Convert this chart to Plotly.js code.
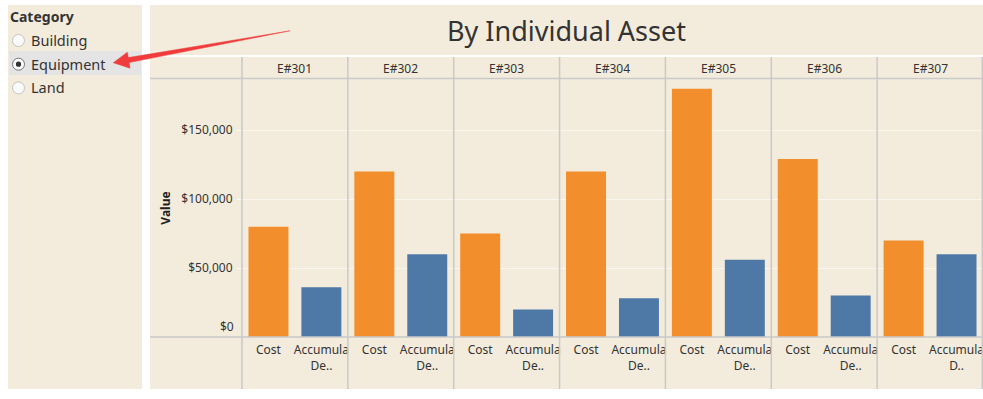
<!DOCTYPE html>
<html>
<head>
<meta charset="utf-8">
<script src="https://cdn.plot.ly/plotly-3.0.1.min.js"></script>
<style>html,body{margin:0;padding:0;background:#fff;}#chart{width:983px;height:399px;}</style>
</head>
<body>
<div id="chart"></div>
<script>
// ---- data ----
const assets = ["E#301", "E#302", "E#303", "E#304", "E#305", "E#306", "E#307"];
const measures = ["Cost", "Accumulated Depreciation"];
const costValues = [80000, 120000, 75000, 120000, 180000, 129000, 70000];
const accDepValues = [36000, 60000, 20000, 28000, 56000, 30000, 60000];
const measureTickLabels = [
  ["Cost", "Accumula<br>De.."],
  ["Cost", "Accumula<br>De.."],
  ["Cost", "Accumula<br>De.."],
  ["Cost", "Accumula<br>De.."],
  ["Cost", "Accumula<br>De.."],
  ["Cost", "Accumula<br>De.."],
  ["Cost", "Accumula<br>D.."]
];
const yTickValues = [0, 50000, 100000, 150000];
const filterTitle = "Category";
const filterOptions = ["Building", "Equipment", "Land"];
const selectedOption = "Equipment";
const chartTitle = "By Individual Asset";
const yAxisTitle = "Value";

// ---- styling helpers ----
const W = 983, H = 399;
const X = px => px / W;
const Y = py => 1 - py / H;
const FONT = "Noto Sans, Open Sans, sans-serif";
const TXT = "#333333";
const BEIGE = "#f3ecdc";
const LINE = "#c9c9c9";
const ORANGE = "#f28e2b";
const BLUE = "#4e79a7";

const colLeft = 242, colRight = 983;
const cw = (colRight - colLeft) / assets.length;
const plotTop = 79, plotBottom = 337;

const traces = [];
const layout = {
  width: W, height: H,
  margin: {l: 0, r: 0, t: 0, b: 0, pad: 0},
  paper_bgcolor: "#ffffff",
  plot_bgcolor: "rgba(0,0,0,0)",
  showlegend: false,
  bargap: 0.245,
  font: {family: FONT, color: TXT, size: 12},
  title: {
    text: chartTitle,
    font: {family: FONT, size: 27, color: TXT},
    x: X(566.5), xref: "paper", xanchor: "center",
    y: Y(32), yref: "paper", yanchor: "middle"
  },
  annotations: [],
  shapes: []
};

// y axis (shared)
layout.yaxis = {
  domain: [Y(plotBottom), Y(plotTop)],
  anchor: "x",
  range: [0, 187000],
  tickvals: yTickValues.filter(v => v !== 0),
  tickformat: "$,.0f",
  tickfont: {family: FONT, size: 12, color: TXT},
  ticks: "outside", ticklen: 4, tickcolor: "rgba(255,255,255,0.8)",
  ticklabelstandoff: 2,
  showgrid: true, gridcolor: "rgba(255,255,255,0.6)", gridwidth: 1,
  zeroline: false, showline: false,
  title: {text: yAxisTitle, font: {family: FONT, size: 12, color: "#222", weight: "bold"}, standoff: 8}
};

assets.forEach((a, i) => {
  const xa = i === 0 ? "x" : "x" + (i + 1);
  const key = i === 0 ? "xaxis" : "xaxis" + (i + 1);
  traces.push({
    type: "bar",
    x: measures,
    y: [costValues[i], accDepValues[i]],
    xaxis: xa, yaxis: "y",
    marker: {color: [ORANGE, BLUE], line: {width: 0}},
    hoverinfo: "x+y",
    name: a
  });
  layout[key] = {
    domain: [X(colLeft + i * cw), X(colLeft + (i + 1) * cw)],
    anchor: "y",
    type: "category",
    categoryorder: "array", categoryarray: measures,
    tickvals: measures,
    ticktext: measureTickLabels[i],
    tickfont: {family: FONT, size: 12, color: TXT},
    ticks: "", ticklabelstandoff: 4,
    showgrid: false, zeroline: false, showline: false, fixedrange: true
  };
  // column header
  layout.annotations.push({
    text: a, xref: xa + " domain", x: 0.5,
    yref: "paper", y: Y(68.5), xanchor: "center", yanchor: "middle",
    showarrow: false, font: {family: FONT, size: 12, color: TXT}
  });
});

// $0 label (Tableau nudges the bottom label inside the pane)
layout.annotations.push({
  text: "$0", xref: "paper", x: X(236), xanchor: "right",
  yref: "y", y: yTickValues[0], yanchor: "middle", yshift: 11,
  showarrow: false, font: {family: FONT, size: 12, color: TXT}
});

// ---- background panels ----
const rect = (x0, y0, x1, y1, color, layer) => ({
  type: "rect", xref: "paper", yref: "paper",
  x0: X(x0), x1: X(x1), y0: Y(y1), y1: Y(y0),
  fillcolor: color, line: {width: 0}, layer: layer || "below"
});
layout.shapes.push(rect(8, 5, 142, 389, BEIGE));
layout.shapes.push(rect(150, 5, 983, 55, BEIGE));
layout.shapes.push(rect(150, 57, 983, 389, BEIGE));
layout.shapes.push(rect(9, 51, 141, 75, "#e4e4e4"));

// ---- pane lines ----
const line = (x0, y0, x1, y1) => ({
  type: "line", xref: "paper", yref: "paper",
  x0: X(x0), x1: X(x1), y0: Y(y0), y1: Y(y1),
  line: {color: LINE, width: 1.5}, layer: "above"
});
layout.shapes.push(line(150, 78.5, 983, 78.5));
layout.shapes.push(line(150, 337, 983, 337));
for (let i = 0; i <= assets.length; i++) {
  const xp = Math.min(colLeft + i * cw, 982.3);
  layout.shapes.push(line(xp, 57, xp, 389));
}

// ---- filter panel ----
layout.annotations.push({
  text: "<b>" + filterTitle + "</b>", xref: "paper", yref: "paper",
  x: X(8), y: Y(16), xanchor: "left", yanchor: "middle",
  showarrow: false, font: {family: FONT, size: 14, color: TXT}
});
filterOptions.forEach((opt, k) => {
  const cy = 40.5 + k * 23.7;
  const sel = opt === selectedOption;
  layout.shapes.push({
    type: "circle", xref: "paper", yref: "paper",
    xsizemode: "pixel", ysizemode: "pixel",
    xanchor: X(18.5), yanchor: Y(cy),
    x0: -6, x1: 6, y0: -6, y1: 6,
    fillcolor: "#fbfbfb", line: {color: sel ? "#777777" : "#c4c4c4", width: 1},
    layer: "above"
  });
  if (sel) {
    layout.shapes.push({
      type: "circle", xref: "paper", yref: "paper",
      xsizemode: "pixel", ysizemode: "pixel",
      xanchor: X(18.5), yanchor: Y(cy),
      x0: -2.6, x1: 2.6, y0: -2.6, y1: 2.6,
      fillcolor: "#333333", line: {width: 0}, layer: "above"
    });
  }
  layout.annotations.push({
    text: opt, xref: "paper", yref: "paper",
    x: X(29), y: Y(cy - 0.5), xanchor: "left", yanchor: "middle",
    showarrow: false, font: {family: FONT, size: 14.5, color: TXT}
  });
});

// ---- red callout arrow ----
const pts = [[113.3, 62.8], [127.3, 52.2], [128.3, 57.6], [290, 30.8], [129.1, 62.6], [130.1, 68.2]];
const path = "M" + pts.map(p => X(p[0]) + "," + Y(p[1])).join(" L") + " Z";
layout.shapes.push({
  type: "path", xref: "paper", yref: "paper", path: path,
  fillcolor: "#f03c3c", line: {color: "#f03c3c", width: 0.5}, layer: "above"
});

Plotly.newPlot("chart", traces, layout, {displayModeBar: false, staticPlot: true});
</script>
</body>
</html>
